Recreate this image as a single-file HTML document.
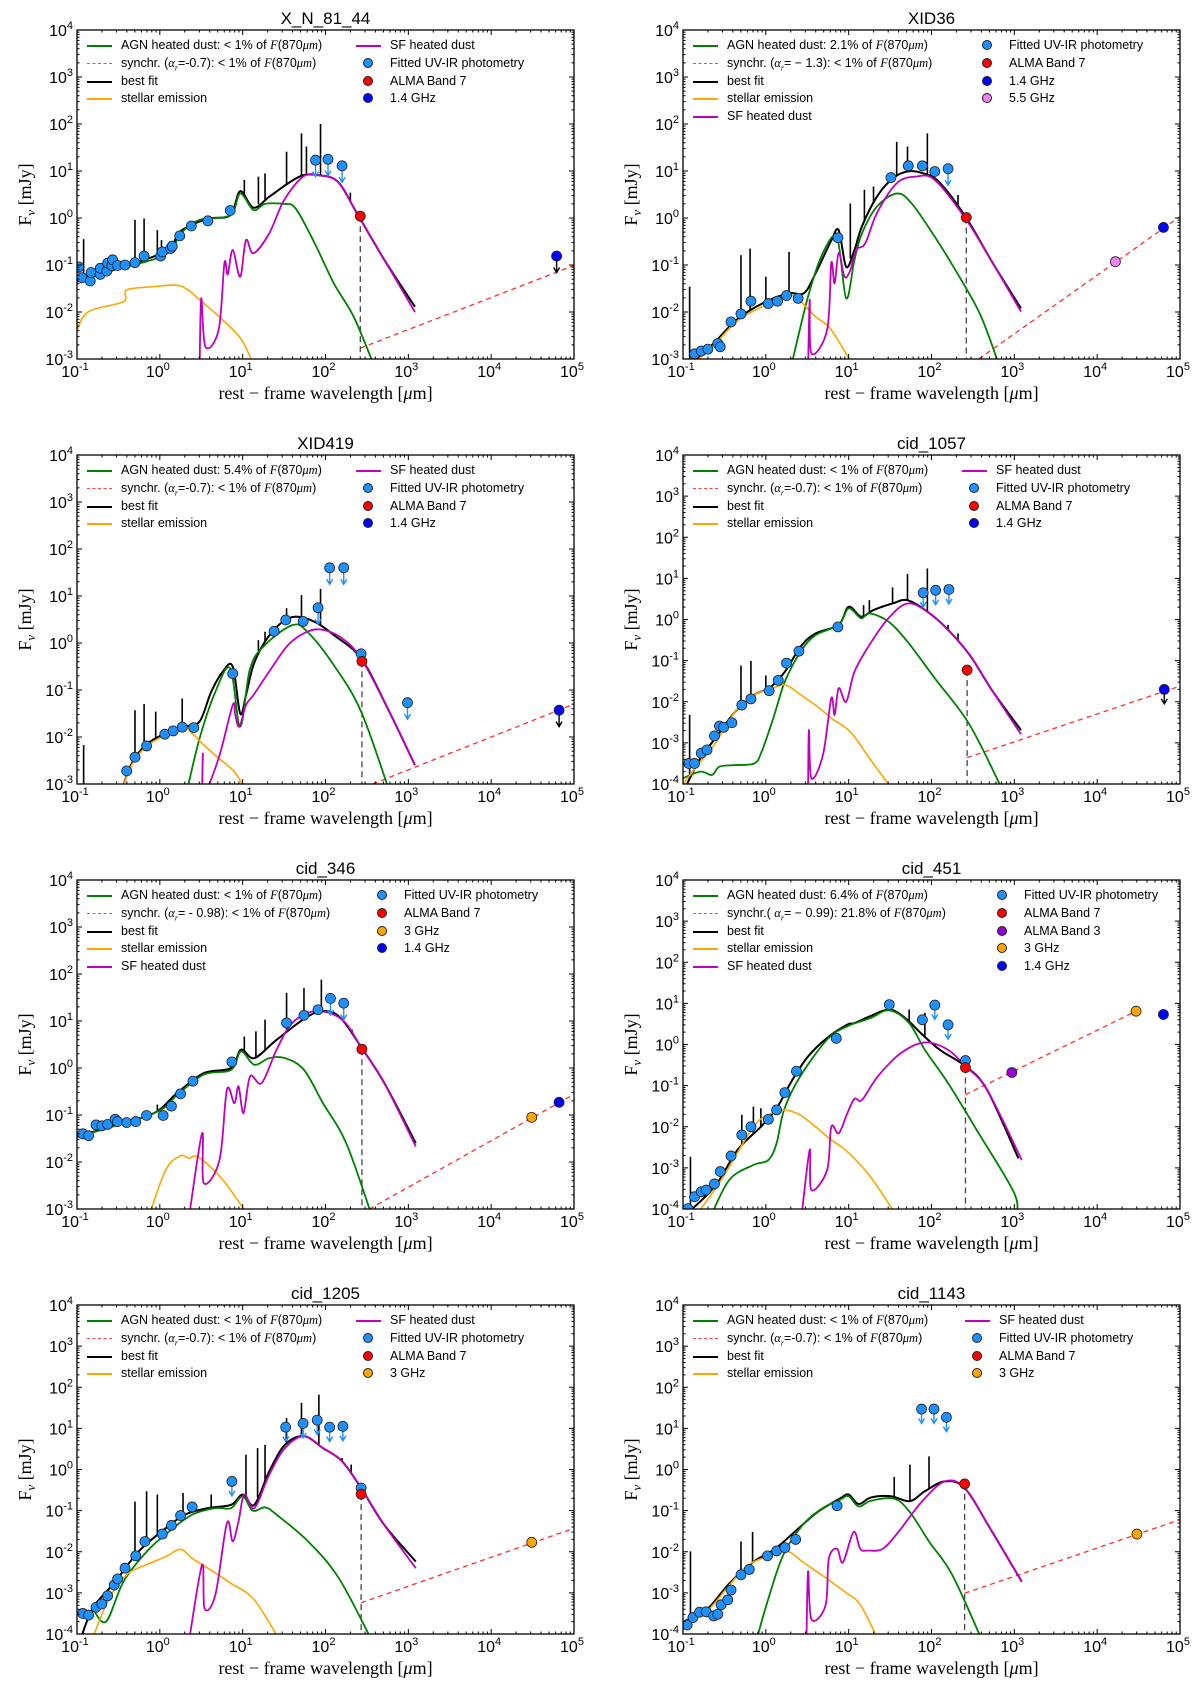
<!DOCTYPE html>
<html><head><meta charset="utf-8">
<style>
body{margin:0;background:#fff;width:1200px;height:1698px;overflow:hidden;position:relative;font-family:"Liberation Sans",sans-serif}
svg{position:absolute;left:0;top:0}
.lg{position:absolute;font-size:12.5px;white-space:nowrap;color:#000;line-height:14px}
.fi{font-family:"Liberation Serif",serif;font-style:italic}
</style></head><body>
<svg id="chart" width="1200" height="1698"></svg>
<div id="legends"></div>
<script>
// ---- data arrays: [log10 wavelength(um), log10 flux(mJy)] ----
const P1_BEST=[[-1,-1.35],[0.02,-0.75],[0.25,-0.28],[0.57,-0.02],[0.85,0.06],[0.97,0.57],[1.13,0.22],[1.32,0.45],[1.55,0.74],[1.73,0.91],[1.92,0.91],[2.15,0.77],[2.38,0.1],[2.71,-0.89],[3.08,-1.89]];
const P1_AGN=[[-1,-1.28],[0.02,-0.82],[0.25,-0.33],[0.48,-0.04],[0.85,0.06],[0.97,0.52],[1.13,0.17],[1.27,0.3],[1.5,0.3],[1.64,0.2],[1.87,-0.54],[2.1,-1.39],[2.34,-2.1],[2.6,-3.2]];
const P1_SF=[[0.48,-3.2],[0.5,-1.71],[0.55,-2.74],[0.71,-2.38],[0.78,-0.96],[0.82,-1.2],[0.88,-0.68],[0.97,-1.25],[1.04,-0.47],[1.13,-0.75],[1.32,-0.33],[1.5,0.38],[1.73,0.88],[1.92,0.91],[2.15,0.77],[2.38,0.1],[2.71,-0.89],[3.08,-2.0]];
const P1_STAR=[[-1,-2.38],[-0.86,-1.99],[-0.44,-1.78],[-0.4,-1.53],[-0.07,-1.46],[0.2,-1.43],[0.34,-1.53],[0.48,-1.74],[0.76,-2.17],[0.99,-2.6],[1.15,-3.2]];
const P1_SPIKES=[[-0.92,-0.45],[-0.3,-0.04],[-0.19,-0.01],[-0.03,-0.26],[0.02,-0.47],[1.02,0.81],[1.19,0.88],[1.27,0.95],[1.53,1.41],[1.71,1.8],[1.77,1.52],[1.94,2.0],[2.3,0.54]];
const P1_PHOT=[[-0.98,-1.04],[-0.94,-1.27],[-0.84,-1.34],[-0.83,-1.16],[-0.72,-1.2],[-0.72,-1.07],[-0.64,-1.13],[-0.63,-0.96],[-0.58,-1.01],[-0.57,-0.89],[-0.51,-1.01],[-0.42,-1.0],[-0.3,-0.95],[-0.19,-0.81],[0.01,-0.81],[0.03,-0.72],[0.13,-0.65],[0.15,-0.6],[0.24,-0.38],[0.38,-0.17],[0.58,-0.06],[0.85,0.16]];
const P1_UL=[[1.88,1.23],[2.03,1.25],[2.2,1.11]];
const P1_ALMA=[[2.42,0.04]];
const P1_RADIO=[[4.79,-0.81]];
const P1_SYNCH=[[2.42,-2.77],[5,-1.01]];

const P2_BEST=[[-0.93,-3.2],[-0.61,-2.63],[-0.33,-2.13],[0,-1.78],[0.28,-1.6],[0.46,-1.6],[0.6,-1.18],[0.79,-0.48],[0.88,-0.26],[0.97,-1.04],[1.07,-0.68],[1.16,-0.18],[1.34,0.45],[1.53,0.84],[1.71,0.99],[1.9,0.95],[2.09,0.77],[2.41,0.03],[2.74,-0.96],[3.08,-1.92]];
const P2_AGN=[[0.3,-3.2],[0.51,-1.67],[0.69,-0.74],[0.86,-0.43],[0.97,-1.71],[1.07,-0.89],[1.16,-0.33],[1.34,0.24],[1.58,0.52],[1.76,0.31],[2.04,-0.4],[2.36,-1.32],[2.6,-2.1],[2.83,-3.2]];
const P2_SF=[[0.51,-3.2],[0.53,-1.74],[0.55,-2.88],[0.74,-2.38],[0.79,-0.96],[0.83,-1.39],[0.88,-0.74],[0.95,-1.25],[1.02,-1.11],[1.09,-0.68],[1.2,-0.54],[1.34,0.1],[1.58,0.74],[1.81,0.88],[2.04,0.81],[2.41,-0.01],[2.74,-0.96],[3.08,-1.99]];
const P2_STAR=[[-0.93,-3.2],[-0.61,-2.67],[-0.33,-2.17],[0,-1.85],[0.28,-1.64],[0.42,-1.78],[0.6,-2.1],[0.79,-2.38],[1.07,-3.2]];
const P2_SPIKES=[[-0.92,-1.46],[-0.3,-0.79],[-0.19,-0.65],[0,-1.25],[0.28,-0.72],[1.02,0.31],[1.19,0.6],[1.3,0.67],[1.58,1.62],[1.71,1.52],[1.95,1.8],[2.32,0.49]];
const P2_PHOT=[[-0.86,-2.89],[-0.78,-2.83],[-0.7,-2.79],[-0.58,-2.67],[-0.55,-2.74],[-0.42,-2.21],[-0.3,-2.04],[-0.18,-1.77],[0.03,-1.82],[0.14,-1.77],[0.25,-1.65],[0.39,-1.71],[0.87,-0.42],[1.51,0.86],[1.72,1.11],[1.89,1.11],[2.04,0.99]];
const P2_UL=[[2.2,1.05]];
const P2_ALMA=[[2.42,0.01]];
const P2_RADIO=[[4.8,-0.2]];
const P2_RADIO55=[[4.22,-0.93]];
const P2_SYNCH=[[2.57,-3],[5,0.03]];

const P3_BEST=[[-0.47,-3.2],[-0.35,-2.6],[-0.17,-2.17],[0.07,-1.92],[0.3,-1.78],[0.48,-1.67],[0.62,-1.04],[0.76,-0.61],[0.88,-0.5],[0.97,-1.5],[1.04,-1.11],[1.13,-0.47],[1.27,0.03],[1.46,0.42],[1.64,0.56],[1.87,0.45],[2.1,0.17],[2.43,-0.33],[2.75,-1.39],[3.08,-2.6]];
const P3_AGN=[[0.32,-3.2],[0.48,-2.03],[0.67,-1.04],[0.85,-0.54],[0.97,-1.78],[1.09,-0.54],[1.27,-0.04],[1.6,0.38],[1.78,0.24],[2.1,-0.47],[2.43,-1.46],[2.78,-3.2]];
const P3_SF=[[0.51,-3.2],[0.52,-2.35],[0.53,-3.2],[0.71,-2.45],[0.88,-1.32],[0.91,-1.53],[0.96,-1.78],[1.04,-1.32],[1.13,-1.11],[1.32,-0.61],[1.55,-0.04],[1.78,0.24],[1.97,0.28],[2.2,0.1],[2.43,-0.33],[2.75,-1.39],[3.08,-2.6]];
const P3_STAR=[[-0.47,-3.2],[-0.35,-2.63],[-0.17,-2.21],[0.07,-1.96],[0.3,-1.82],[0.39,-1.92],[0.53,-2.17],[0.71,-2.45],[0.9,-2.74],[1.06,-3.2]];
const P3_SPIKES=[[-0.92,-2.17],[-0.3,-1.43],[-0.19,-1.3],[-0.05,-1.46],[0.27,-1.18],[1.19,0.06],[1.27,0.24],[1.53,0.74],[1.71,1.02],[1.94,1.15]];
const P3_PHOT=[[-0.4,-2.72],[-0.3,-2.43],[-0.16,-2.19],[0.06,-1.94],[0.16,-1.87],[0.27,-1.79],[0.41,-1.8],[0.88,-0.65],[1.38,0.25],[1.52,0.49],[1.73,0.46],[2.43,-0.23]];
const P3_UL=[[2.05,1.6],[2.22,1.6],[1.91,0.75],[2.99,-1.27]];
const P3_ALMA=[[2.44,-0.39]];
const P3_RADIO=[[4.82,-1.43]];
const P3_SYNCH=[[2.57,-3],[5,-1.3]];

const P4_BEST=[[-1,-4.2],[-0.79,-3.37],[-0.61,-2.89],[-0.37,-2.24],[-0.14,-1.83],[0.04,-1.67],[0.23,-1.27],[0.42,-0.66],[0.6,-0.34],[0.88,-0.13],[1.0,0.31],[1.15,0.07],[1.3,0.23],[1.53,0.39],[1.71,0.47],[1.95,0.19],[2.18,-0.21],[2.46,-0.86],[2.74,-1.75],[3.08,-2.69]];
const P4_AGN=[[-1,-3.86],[-0.79,-3.7],[-0.65,-3.78],[-0.56,-3.58],[-0.37,-3.54],[-0.14,-3.5],[-0.05,-3.21],[0.09,-2.4],[0.23,-1.51],[0.42,-0.78],[0.6,-0.38],[0.88,-0.13],[1.0,0.27],[1.15,0.03],[1.25,0.15],[1.48,-0.05],[1.71,-0.54],[2.04,-1.43],[2.46,-2.56],[2.87,-4.2]];
const P4_SF=[[0.51,-4.2],[0.52,-2.69],[0.55,-3.86],[0.69,-3.29],[0.79,-1.92],[0.83,-2.32],[0.88,-1.67],[0.97,-2.0],[1.07,-1.27],[1.25,-0.62],[1.48,0.03],[1.71,0.39],[1.95,0.19],[2.18,-0.21],[2.46,-0.86],[2.74,-1.75],[3.08,-2.79]];
const P4_STAR=[[-1,-4],[-0.79,-3.46],[-0.61,-3.01],[-0.37,-2.24],[-0.14,-1.83],[0.04,-1.71],[0.23,-1.59],[0.42,-1.83],[0.65,-2.16],[0.79,-2.4],[1.02,-2.73],[1.25,-3.37],[1.55,-4.2]];
const P4_SPIKES=[[-0.92,-2.32],[-0.3,-1.12],[-0.18,-1.01],[0,-1.36],[0.18,-1.35],[1.18,0.35],[1.25,0.47],[1.53,0.78],[1.71,1.11],[1.95,1.24],[2.2,-0.13],[2.32,-0.34]];
const P4_PHOT=[[-0.93,-3.5],[-0.86,-3.5],[-0.78,-3.25],[-0.71,-3.17],[-0.62,-2.83],[-0.56,-2.59],[-0.51,-2.62],[-0.41,-2.51],[-0.29,-2.08],[-0.18,-1.93],[0.04,-1.73],[0.15,-1.48],[0.25,-1.06],[0.4,-0.77],[0.87,-0.18]];
const P4_UL=[[1.9,0.65],[2.05,0.71],[2.21,0.73]];
const P4_ALMA=[[2.43,-1.23]];
const P4_RADIO=[[4.81,-1.7]];
const P4_SYNCH=[[2.43,-3.36],[5,-1.62]];

const P5_BEST=[[-1,-1.47],[-0.54,-1.21],[-0.07,-0.96],[0.21,-0.53],[0.53,-0.11],[0.86,0],[0.98,0.39],[1.14,0.21],[1.41,0.6],[1.79,1.1],[2.02,1.21],[2.2,1.03],[2.44,0.42],[2.71,-0.32],[3.09,-1.6]];
const P5_AGN=[[-1,-1.47],[-0.07,-0.96],[0.21,-0.57],[0.53,-0.14],[0.86,-0.04],[0.98,0.35],[1.14,0.07],[1.32,0.21],[1.51,0.21],[1.74,-0.04],[1.97,-0.75],[2.25,-1.6],[2.57,-3.2]];
const P5_SF=[[0.35,-3.2],[0.51,-1.39],[0.53,-2.45],[0.72,-1.96],[0.81,-0.46],[0.9,-0.75],[0.95,-0.39],[1.01,-0.96],[1.09,-0.18],[1.23,-0.32],[1.41,0.39],[1.6,0.96],[1.88,1.21],[2.2,1.03],[2.44,0.42],[2.71,-0.32],[3.09,-1.67]];
const P5_STAR=[[-0.14,-3.2],[0.07,-2.17],[0.25,-1.87],[0.35,-1.92],[0.47,-1.9],[0.76,-2.38],[1.09,-3.2]];
const P5_SPIKES=[[-0.03,-0.78],[1.02,0.67],[1.16,0.78],[1.27,1.03],[1.53,1.6],[1.74,1.7],[1.95,1.88],[2.32,0.82]];
const P5_PHOT=[[-0.93,-1.4],[-0.86,-1.44],[-0.77,-1.21],[-0.7,-1.23],[-0.63,-1.2],[-0.54,-1.09],[-0.51,-1.14],[-0.4,-1.16],[-0.29,-1.14],[-0.16,-1.01],[0.04,-1.01],[0.14,-0.81],[0.25,-0.55],[0.4,-0.28],[0.87,0.13],[1.53,0.96],[1.74,1.12],[1.91,1.24]];
const P5_UL=[[2.06,1.48],[2.22,1.38]];
const P5_ALMA=[[2.44,0.4]];
const P5_RADIO=[[4.82,-0.73]];
const P5_RADIO3=[[4.49,-1.05]];
const P5_SYNCH=[[2.53,-3],[5,-0.56]];

const P6_BEST=[[-1,-4.2],[-0.62,-3.46],[-0.34,-2.56],[-0.06,-2.0],[0.13,-1.55],[0.32,-0.86],[0.51,-0.29],[0.74,0.16],[0.98,0.48],[1.07,0.52],[1.26,0.69],[1.49,0.85],[1.68,0.65],[1.87,0.28],[2.1,-0.13],[2.41,-0.53],[2.67,-1.1],[3.05,-2.77]];
const P6_AGN=[[-0.67,-4.2],[-0.44,-3.29],[-0.15,-2.93],[0.03,-2.81],[0.13,-2.4],[0.22,-1.59],[0.41,-0.79],[0.74,0.12],[0.98,0.44],[1.26,0.64],[1.49,0.83],[1.73,0.52],[1.92,-0.13],[2.2,-0.94],[2.57,-2.16],[3.0,-3.62],[3.02,-4.2]];
const P6_SF=[[0.43,-4.2],[0.53,-2.56],[0.55,-3.54],[0.74,-3.05],[0.79,-2.0],[0.88,-2.16],[0.98,-1.69],[1.07,-1.32],[1.16,-1.35],[1.35,-0.78],[1.63,-0.21],[1.92,0.05],[2.2,-0.13],[2.41,-0.53],[2.67,-1.1],[3.09,-2.81]];
const P6_STAR=[[-0.86,-4.2],[-0.62,-3.54],[-0.44,-2.97],[-0.15,-2.0],[0.03,-1.71],[0.22,-1.59],[0.41,-1.71],[0.6,-2.0],[0.79,-2.32],[0.98,-2.6],[1.26,-3.21],[1.59,-4.2]];
const P6_SPIKES=[[-0.91,-2.73],[-0.29,-1.71],[-0.15,-1.51],[-0.06,-1.55],[1.73,0.85],[1.92,0.77]];
const P6_PHOT=[[-0.94,-3.99],[-0.86,-3.7],[-0.78,-3.58],[-0.72,-3.54],[-0.62,-3.39],[-0.55,-3.09],[-0.42,-2.71],[-0.29,-2.2],[-0.18,-2.0],[0.03,-1.82],[0.13,-1.59],[0.23,-1.17],[0.37,-0.65],[0.85,0.15],[1.49,0.97],[1.89,0.6],[2.41,-0.39]];
const P6_UL=[[2.04,0.96],[2.2,0.48]];
const P6_ALMA=[[2.41,-0.56]];
const P6_ALMA3=[[2.97,-0.68]];
const P6_RADIO=[[4.8,0.73]];
const P6_RADIO3=[[4.47,0.81]];
const P6_SYNCH=[[2.41,-1.22],[4.47,0.81]];

const P7_BEST=[[-0.97,-4.2],[-0.81,-3.38],[-0.54,-2.73],[-0.26,-2.0],[0.02,-1.51],[0.3,-1.1],[0.58,-0.94],[0.86,-0.86],[1.0,-0.61],[1.14,-0.86],[1.32,-0.05],[1.51,0.6],[1.74,0.81],[1.97,0.52],[2.2,0.2],[2.43,-0.45],[2.71,-1.35],[3.09,-2.24]];
const P7_AGN=[[-0.81,-3.38],[-0.65,-3.7],[-0.44,-2.73],[-0.16,-2.0],[0.11,-1.51],[0.39,-1.1],[0.67,-0.94],[0.86,-0.94],[1.0,-0.65],[1.12,-1.0],[1.27,-0.92],[1.41,-1.1],[1.79,-1.75],[2.16,-2.64],[2.57,-4.2]];
const P7_SF=[[0.35,-4.2],[0.51,-2.32],[0.54,-3.38],[0.67,-3.05],[0.81,-1.3],[0.88,-1.75],[0.95,-1.26],[1.02,-0.61],[1.14,-0.94],[1.32,-0.13],[1.51,0.52],[1.74,0.81],[1.97,0.52],[2.2,0.2],[2.43,-0.45],[2.71,-1.35],[3.09,-2.4]];
const P7_STAR=[[-0.83,-4.2],[-0.63,-3.21],[-0.4,-2.56],[-0.12,-2.28],[0.07,-2.12],[0.25,-1.94],[0.39,-2.16],[0.58,-2.4],[0.86,-2.77],[1.14,-3.17],[1.46,-4.2]];
const P7_SPIKES=[[-0.3,-0.78],[-0.16,-0.53],[-0.03,-0.61],[0.28,-0.57],[0.62,-0.61],[1.04,0.36],[1.18,0.52],[1.27,0.6],[1.53,1.25],[1.71,1.62],[1.92,1.82],[2.2,0.28],[2.31,0.12]];
const P7_PHOT=[[-0.93,-3.5],[-0.86,-3.54],[-0.77,-3.35],[-0.7,-3.27],[-0.63,-3.07],[-0.55,-2.81],[-0.51,-2.66],[-0.42,-2.4],[-0.29,-2.1],[-0.18,-1.75],[0.03,-1.57],[0.14,-1.36],[0.25,-1.12],[0.39,-0.91],[2.43,-0.45]];
const P7_UL=[[0.87,-0.29],[1.52,1.03],[1.73,1.12],[1.9,1.2],[2.05,1.03],[2.21,1.05]];
const P7_ALMA=[[2.43,-0.6]];
const P7_RADIO3=[[4.49,-1.77]];
const P7_SYNCH=[[2.43,-3.24],[5,-1.43]];

const P8_BEST=[[-1,-3.7],[-0.72,-3.42],[-0.44,-2.77],[-0.16,-2.26],[0.11,-1.93],[0.39,-1.44],[0.62,-1.04],[0.9,-0.7],[1.0,-0.61],[1.12,-0.84],[1.27,-0.68],[1.51,-0.65],[1.74,-0.77],[1.92,-0.53],[2.16,-0.29],[2.4,-0.45],[2.71,-1.44],[3.09,-2.73]];
const P8_AGN=[[-0.12,-4.2],[0.02,-3.21],[0.21,-2.08],[0.44,-1.36],[0.67,-0.96],[0.9,-0.73],[1.0,-0.65],[1.12,-0.9],[1.27,-0.76],[1.55,-0.71],[1.74,-1.04],[1.97,-1.75],[2.25,-2.56],[2.62,-4.2]];
const P8_SF=[[0.49,-4.2],[0.51,-2.48],[0.55,-3.64],[0.72,-3.31],[0.76,-2.17],[0.86,-1.93],[0.93,-2.26],[1.06,-1.52],[1.14,-1.93],[1.23,-1.97],[1.41,-1.93],[1.6,-1.52],[1.88,-0.79],[2.16,-0.29],[2.4,-0.45],[2.71,-1.44],[3.09,-2.73]];
const P8_STAR=[[-1,-3.7],[-0.72,-3.46],[-0.44,-2.81],[-0.21,-2.32],[0.02,-2.12],[0.25,-1.98],[0.44,-2.24],[0.67,-2.56],[0.95,-2.97],[1.14,-3.29],[1.37,-4.2]];
const P8_SPIKES=[[-0.91,-1.99],[-0.3,-1.75],[-0.16,-1.52],[1.55,-0.18],[1.74,0.12],[1.97,0.32]];
const P8_PHOT=[[-0.95,-3.78],[-0.88,-3.6],[-0.8,-3.47],[-0.72,-3.46],[-0.63,-3.56],[-0.58,-3.52],[-0.54,-3.29],[-0.46,-3.17],[-0.42,-2.93],[-0.3,-2.56],[-0.2,-2.43],[0.02,-2.1],[0.13,-1.98],[0.23,-1.9],[0.36,-1.7],[0.86,-0.88]];
const P8_UL=[[1.88,1.47],[2.03,1.47],[2.18,1.27]];
const P8_ALMA=[[2.4,-0.35]];
const P8_RADIO3=[[4.48,-1.57]];
const P8_SYNCH=[[2.4,-3.01],[5,-1.22]];

const TITLES=["X_N_81_44","XID36","XID419","cid_1057","cid_346","cid_451","cid_1205","cid_1143"];
const YMINS=[-3,-3,-3,-4,-3,-4,-4,-4];
const XTICKS=[-1,0,1,2,3,4,5];

const NS="http://www.w3.org/2000/svg";
const svg=document.getElementById('chart');
const legHost=document.getElementById('legends');
function el(tag,attrs,parent){const e=document.createElementNS(NS,tag);for(const k in attrs)e.setAttribute(k,attrs[k]);(parent||svg).appendChild(e);return e;}

const PHOTC='#1e90ff',AGNC='#008000',SFC='#bf00bf',STARC='#ffa500';
const AGNTXT=['&lt; 1%','2.1%','5.4%','&lt; 1%','&lt; 1%','6.4%','&lt; 1%','&lt; 1%'];
const SYNTXT=['synchr. (<span class="fi">α<sub style="font-size:8px">r</sub></span>=-0.7): &lt; 1%','synchr. (<span class="fi">α<sub style="font-size:8px">r</sub></span>= − 1.3): &lt; 1%','synchr. (<span class="fi">α<sub style="font-size:8px">r</sub></span>=-0.7): &lt; 1%','synchr. (<span class="fi">α<sub style="font-size:8px">r</sub></span>=-0.7): &lt; 1%','synchr. (<span class="fi">α<sub style="font-size:8px">r</sub></span>= - 0.98): &lt; 1%','synchr.( <span class="fi">α<sub style="font-size:8px">r</sub></span>= − 0.99): 21.8%','synchr. (<span class="fi">α<sub style="font-size:8px">r</sub></span>=-0.7): &lt; 1%','synchr. (<span class="fi">α<sub style="font-size:8px">r</sub></span>=-0.7): &lt; 1%'];

const PANELS=[
 {best:P1_BEST,agn:P1_AGN,sf:P1_SF,star:P1_STAR,spk:P1_SPIKES,phot:P1_PHOT,ul:P1_UL,alma:P1_ALMA,syn:P1_SYNCH,extra:[[P1_RADIO,'#0000ff',true]],sfLeft:false,right:['ph','a7','r14'],rOff:291},
 {best:P2_BEST,agn:P2_AGN,sf:P2_SF,star:P2_STAR,spk:P2_SPIKES,phot:P2_PHOT,ul:P2_UL,alma:P2_ALMA,syn:P2_SYNCH,extra:[[P2_RADIO55,'#ee82ee',false],[P2_RADIO,'#0000ff',false]],sfLeft:true,right:['ph','a7','r14','r55'],rOff:304},
 {best:P3_BEST,agn:P3_AGN,sf:P3_SF,star:P3_STAR,spk:P3_SPIKES,phot:P3_PHOT,ul:P3_UL,alma:P3_ALMA,syn:P3_SYNCH,extra:[[P3_RADIO,'#0000ff',true]],sfLeft:false,right:['ph','a7','r14'],rOff:291},
 {best:P4_BEST,agn:P4_AGN,sf:P4_SF,star:P4_STAR,spk:P4_SPIKES,phot:P4_PHOT,ul:P4_UL,alma:P4_ALMA,syn:P4_SYNCH,extra:[[P4_RADIO,'#0000ff',true]],sfLeft:false,right:['ph','a7','r14'],rOff:291},
 {best:P5_BEST,agn:P5_AGN,sf:P5_SF,star:P5_STAR,spk:P5_SPIKES,phot:P5_PHOT,ul:P5_UL,alma:P5_ALMA,syn:P5_SYNCH,extra:[[P5_RADIO3,'#ffa500',false],[P5_RADIO,'#0000ff',false]],sfLeft:true,right:['ph','a7','r3','r14'],rOff:305},
 {best:P6_BEST,agn:P6_AGN,sf:P6_SF,star:P6_STAR,spk:P6_SPIKES,phot:P6_PHOT,ul:P6_UL,alma:P6_ALMA,syn:P6_SYNCH,extra:[[P6_ALMA3,'#9400d3',false],[P6_RADIO3,'#ffa500',false],[P6_RADIO,'#0000ff',false]],sfLeft:true,right:['ph','a7','a3','r3','r14'],rOff:319},
 {best:P7_BEST,agn:P7_AGN,sf:P7_SF,star:P7_STAR,spk:P7_SPIKES,phot:P7_PHOT,ul:P7_UL,alma:P7_ALMA,syn:P7_SYNCH,extra:[[P7_RADIO3,'#ffa500',false]],sfLeft:false,right:['ph','a7','r3'],rOff:291},
 {best:P8_BEST,agn:P8_AGN,sf:P8_SF,star:P8_STAR,spk:P8_SPIKES,phot:P8_PHOT,ul:P8_UL,alma:P8_ALMA,syn:P8_SYNCH,extra:[[P8_RADIO3,'#ffa500',false]],sfLeft:false,right:['ph','a7','r3'],rOff:294}
];
const RLAB={ph:['Fitted UV-IR photometry',PHOTC],a7:['ALMA Band 7','#ff0000'],a3:['ALMA Band 3','#9400d3'],r3:['3 GHz','#ffa500'],r14:['1.4 GHz','#0000ff'],r55:['5.5 GHz','#ee82ee']};

function interp(arr,x){for(let i=0;i<arr.length-1;i++){if(x>=arr[i][0]&&x<=arr[i+1][0]){const t=(x-arr[i][0])/(arr[i+1][0]-arr[i][0]);return arr[i][1]+t*(arr[i+1][1]-arr[i][1]);}}return null;}
function smoothPath(pts){
  let d='M'+pts[0][0]+','+pts[0][1];
  for(let i=0;i<pts.length-1;i++){
    const p0=pts[Math.max(0,i-1)],p1=pts[i],p2=pts[i+1],p3=pts[Math.min(pts.length-1,i+2)];
    const k=1/6;
    const c1=[p1[0]+(p2[0]-p0[0])*k,p1[1]+(p2[1]-p0[1])*k];
    const c2=[p2[0]-(p3[0]-p1[0])*k,p2[1]-(p3[1]-p1[1])*k];
    d+=`C${c1[0]},${c1[1]} ${c2[0]},${c2[1]} ${p2[0]},${p2[1]}`;
  }
  return d;
}

PANELS.forEach((p,i)=>{
  const col=i%2,row=Math.floor(i/2);
  const L=col?683:77,R=col?1180:574,T=30+row*425,H=329,W=R-L,B=T+H;
  const ymin=YMINS[i];
  const sx=v=>L+(v+1)/6*W;
  const sy=v=>T+(4-v)/(4-ymin)*H;
  const g=el('g',{});
  
  
  const cid='clip'+i;
  const cp=el('clipPath',{id:cid},g);el('rect',{x:L,y:T,width:W,height:H},cp);
  const pg=el('g',{'clip-path':'url(#'+cid+')'},g);
  const line=(arr,c,w,name)=>{const e=el('path',{d:smoothPath(arr.map(d=>[sx(d[0]),sy(d[1])])),fill:'none',stroke:c,'stroke-width':w,'stroke-linejoin':'round'},pg);};
  const sy1=el('line',{x1:sx(p.syn[0][0]),y1:sy(p.syn[0][1]),x2:sx(p.syn[1][0]),y2:sy(p.syn[1][1]),stroke:'#ff3030','stroke-width':1.3,'stroke-dasharray':'5,4'},pg);
  
  const vl=el('line',{x1:sx(p.alma[0][0]),y1:sy(p.alma[0][1]),x2:sx(p.alma[0][0]),y2:B,stroke:'#444','stroke-width':1.3,'stroke-dasharray':'6,4'},pg);
  
  line(p.best,'#000',2,'best-fit-line');
  p.spk.forEach(s=>{const base=interp(p.best,s[0]);const b=base===null?ymin:base;const e=el('line',{x1:sx(s[0]),x2:sx(s[0]),y1:sy(b),y2:sy(s[1]),stroke:'#000','stroke-width':1.6},pg);});
  line(p.agn,AGNC,1.8,'agn-dust-line');
  line(p.star,STARC,1.6,'stellar-emission-line');
  line(p.sf,SFC,1.8,'sf-dust-line');
  const dot=(x,y,c,name,r)=>{const e=el('circle',{cx:sx(x),cy:sy(y),r:r||5,fill:c,stroke:'#222','stroke-width':0.8},pg);};
  const arrow=(x,y,c)=>{const X=sx(x),Y1=sy(y),Y2=sy(y-0.35);const e=el('path',{d:`M${X},${Y1}L${X},${Y2}M${X-3},${Y2-5}L${X},${Y2}L${X+3},${Y2-5}`,stroke:c,'stroke-width':1.4,fill:'none'},pg);};
  p.phot.forEach(d=>dot(d[0],d[1],PHOTC,'photometry-point'));
  p.ul.forEach(d=>{arrow(d[0],d[1],PHOTC);dot(d[0],d[1],PHOTC,'photometry-upper-limit');});
  dot(p.alma[0][0],p.alma[0][1],'#ff0000','alma-band7-point');
  p.extra.forEach(ex=>{ex[0].forEach(d=>{if(ex[2])arrow(d[0],d[1],'#000');dot(d[0],d[1],ex[1],'radio-point');});});
  const fr=el('rect',{x:L,y:T,width:W,height:H,fill:'none',stroke:'#000','stroke-width':1.3},g);
  
  XTICKS.forEach(k=>{const X=sx(k);el('line',{x1:X,x2:X,y1:B,y2:B-5,stroke:'#000'},g);el('line',{x1:X,x2:X,y1:T,y2:T+5,stroke:'#000'},g);
    if(k<5)for(let m=2;m<10;m++){const Xm=sx(k+Math.log10(m));el('line',{x1:Xm,x2:Xm,y1:B,y2:B-2.5,stroke:'#000'},g);el('line',{x1:Xm,x2:Xm,y1:T,y2:T+2.5,stroke:'#000'},g);}
    const t=el('text',{x:X-2,y:B+18,'font-size':16,'text-anchor':'middle'},g);t.innerHTML='10<tspan dy="-7" font-size="11">'+k+'</tspan>';
    });
  for(let k=ymin;k<=4;k++){const Y=sy(k);el('line',{x1:L,x2:L+5,y1:Y,y2:Y,stroke:'#000'},g);el('line',{x1:R,x2:R-5,y1:Y,y2:Y,stroke:'#000'},g);
    if(k<4)for(let m=2;m<10;m++){const Ym=sy(k+Math.log10(m));el('line',{x1:L,x2:L+2.5,y1:Ym,y2:Ym,stroke:'#000'},g);el('line',{x1:R,x2:R-2.5,y1:Ym,y2:Ym,stroke:'#000'},g);}
    const t=el('text',{x:L-4,y:Y+6,'font-size':16,'text-anchor':'end'},g);t.innerHTML='10<tspan dy="-7" font-size="11">'+k+'</tspan>';
    }
  const tt=el('text',{x:(L+R)/2,y:T-6,'font-size':17,'text-anchor':'middle'},g);tt.textContent=TITLES[i];
  
  const xl=el('text',{x:(L+R)/2,y:B+40,'font-size':18,'text-anchor':'middle','font-family':'Liberation Serif,serif'},g);
  xl.innerHTML='rest − frame wavelength [<tspan font-style="italic">μ</tspan>m]';
  
  const yl=el('text',{x:0,y:0,'font-size':18,'text-anchor':'middle','font-family':'Liberation Serif,serif',transform:`translate(${L-46},${(T+B)/2}) rotate(-90)`},g);
  yl.innerHTML='F<tspan font-style="italic" dy="4" font-size="13">ν</tspan><tspan dy="-4"> [mJy]</tspan>';
  
  const leg=document.createElement('div');
  
  
  legHost.appendChild(leg);
  const left=[['line',AGNC,'AGN heated dust: '+AGNTXT[i]+' of <span class="fi">F</span>(870<span class="fi">μm</span>)'],['dash','#ff4040',SYNTXT[i]+' of <span class="fi">F</span>(870<span class="fi">μm</span>)'],['line','#000','best fit'],['line',STARC,'stellar emission']];
  if(p.sfLeft)left.push(['line',SFC,'SF heated dust']);
  const right=[];if(!p.sfLeft)right.push(['line',SFC,'SF heated dust']);
  p.right.forEach(k=>right.push(['dot',RLAB[k][1],RLAB[k][0]]));
  const addEntry=(e,x0,y)=>{
    const sym=document.createElement('div');sym.style.cssText=`position:absolute;left:${x0}px;top:${y-1}px;width:25px;height:0;`;
    if(e[0]==='line')sym.style.borderTop=`2.5px solid ${e[1]}`;
    else if(e[0]==='dash')sym.style.borderTop=`1.5px dashed ${e[1]}`;
    else{sym.style.cssText=`position:absolute;left:${x0+7}px;top:${y-6}px;width:10px;height:10px;border-radius:50%;background:${e[1]};border:0.8px solid #222;box-sizing:border-box`;}
    
    leg.appendChild(sym);
    const t=document.createElement('div');t.className='lg';t.style.left=(x0+34)+'px';t.style.top=(y-8)+'px';t.innerHTML=e[2];
    
    leg.appendChild(t);};
  left.forEach((e,j)=>addEntry(e,L+10,T+16+j*17.8));
  right.forEach((e,j)=>addEntry(e,L+p.rOff-12,T+16+j*17.8));
});
</script>
</body></html>
